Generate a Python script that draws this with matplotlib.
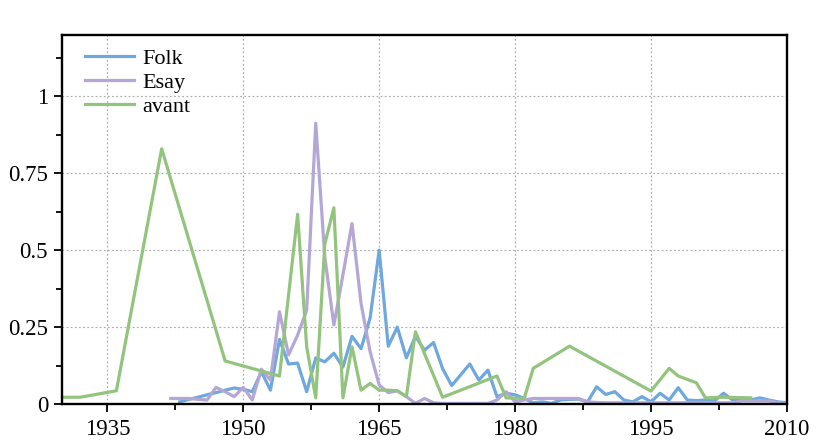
import matplotlib
matplotlib.use("Agg")
import matplotlib.pyplot as plt
from matplotlib.ticker import MultipleLocator

plt.rcParams['font.family'] = ['Liberation Serif', 'DejaVu Serif']

# Folk: yearly values 1943-2010
folk_years = list(range(1943, 2011))
folk_vals = [0.007, 0.015, 0.022, 0.03, 0.037, 0.045, 0.052, 0.048, 0.04, 0.105,
             0.045, 0.21, 0.13, 0.133, 0.04, 0.15, 0.137, 0.165, 0.12, 0.22,
             0.18, 0.28, 0.5, 0.188, 0.25, 0.15, 0.22, 0.175, 0.2, 0.115,
             0.06, 0.095, 0.13, 0.078, 0.11, 0.024, 0.035, 0.03, 0.018, 0.004,
             0.007, 0.002, 0.013, 0.015, 0.016, 0.007, 0.056, 0.031, 0.04, 0.013,
             0.007, 0.024, 0.007, 0.035, 0.013, 0.053, 0.013, 0.011, 0.013, 0.01,
             0.035, 0.013, 0.018, 0.013, 0.02, 0.013, 0.007, 0.004]

# Esay: yearly values 1942-2010
esay_years = list(range(1942, 2011))
esay_vals = [0.018, 0.018, 0.018, 0.015, 0.013, 0.054, 0.04, 0.024, 0.054, 0.013,
             0.113, 0.078, 0.3, 0.16, 0.224, 0.305, 0.913, 0.478, 0.257, 0.42,
             0.587, 0.327, 0.17, 0.062, 0.037, 0.043, 0.024, 0.002, 0.018, 0.004,
             0.002, 0.002, 0.002, 0.002, 0.002, 0.002, 0.013, 0.04, 0.007, 0.013,
             0.018, 0.018, 0.018, 0.018, 0.018, 0.018, 0.007, 0.005, 0.004, 0.004,
             0.004, 0.004, 0.004, 0.004, 0.004, 0.004, 0.004, 0.004, 0.004, 0.004,
             0.004, 0.004, 0.004, 0.01, 0.01, 0.01, 0.01, 0.004, 0.001]

# avant: irregular years
avant_years = [1930, 1932, 1936, 1941, 1948, 1954, 1956, 1957, 1958, 1959, 1960,
               1961, 1962, 1963, 1964, 1965, 1966, 1967, 1968, 1969, 1972, 1978,
               1979, 1981, 1982, 1986, 1995, 1997, 1998, 2000, 2001, 2003, 2006]
avant_vals = [0.022, 0.022, 0.043, 0.83, 0.14, 0.091, 0.617, 0.186, 0.02, 0.52, 0.638,
              0.02, 0.186, 0.045, 0.067, 0.045, 0.045, 0.043, 0.024, 0.235, 0.022, 0.091,
              0.02, 0.018, 0.116, 0.188, 0.042, 0.116, 0.091, 0.069, 0.02, 0.022, 0.02]

fig = plt.figure(figsize=(8.19, 4.48), dpi=100)
ax = fig.add_axes([0.0757, 0.0982, 0.8852, 0.8237])

ax.plot(folk_years, folk_vals, color='#6fa8dc', lw=2.3, label='Folk')
ax.plot(esay_years, esay_vals, color='#b4a7d6', lw=2.3, label='Esay')
ax.plot(avant_years, avant_vals, color='#93c47d', lw=2.3, label='avant')

ax.set_xlim(1930, 2010)
ax.set_ylim(0, 1.2)
ax.set_xticks([1935, 1950, 1965, 1980, 1995, 2010])
ax.xaxis.set_minor_locator(MultipleLocator(7.5))
ax.set_yticks([0, 0.25, 0.5, 0.75, 1])
ax.set_yticklabels(['0', '0.25', '0.5', '0.75', '1'])
ax.yaxis.set_minor_locator(MultipleLocator(0.125))

ax.grid(True, which='major', color='#ababab', linestyle=(0, (1.5, 2)), lw=0.85)
ax.tick_params(which='both', direction='out', labelsize=16.5, width=1.3, color='black')
ax.tick_params(which='major', length=6)
ax.tick_params(which='minor', length=4)
ax.tick_params(axis='x', pad=5)
ax.tick_params(axis='y', pad=4)
for s in ax.spines.values():
    s.set_linewidth(1.7)

ax.legend(loc='upper left', frameon=False, fontsize=16, handlelength=2.2,
          handletextpad=0.4, borderaxespad=0.2, labelspacing=0.15,
          bbox_to_anchor=(0.013, 1.0))

fig.savefig('out.png', dpi=100)
